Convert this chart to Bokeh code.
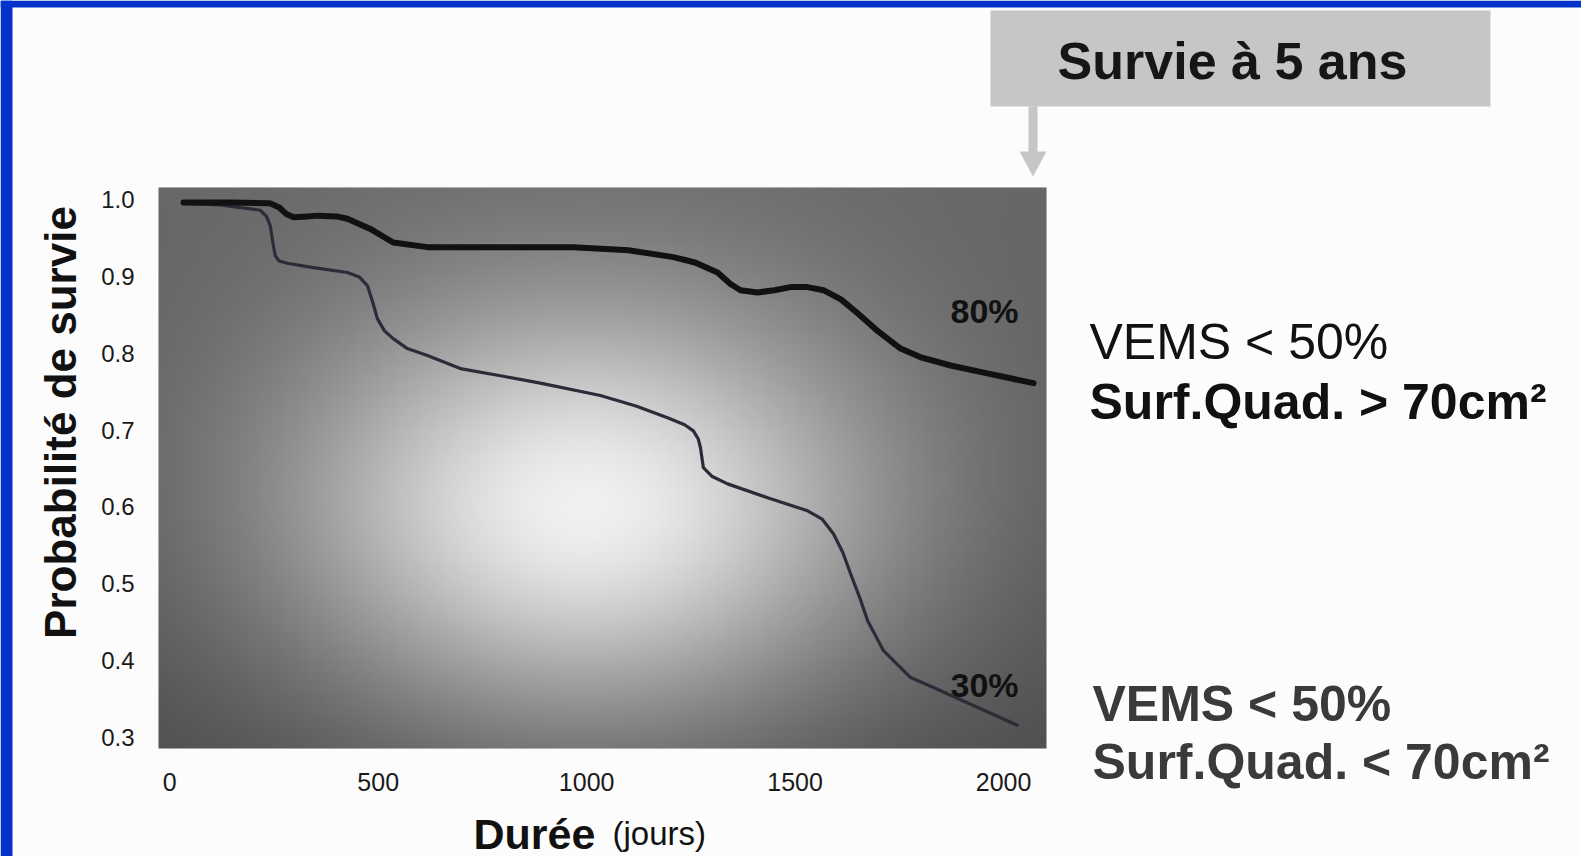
import numpy as np
from math import pi
from bokeh.plotting import figure
from bokeh.models import Range1d, FixedTicker, PrintfTickFormatter, Label
from bokeh.embed import file_html
from bokeh.resources import INLINE

# ---- data ----
days_high = [33, 150, 240, 262, 280, 297, 330, 354, 400, 426, 480, 536, 618, 750, 968, 1100,
             1208, 1260, 1314, 1345, 1369, 1410, 1450, 1489, 1530, 1568, 1610, 1650, 1700,
             1753, 1800, 1873, 1950, 2072]
surv_high = [0.996, 0.996, 0.995, 0.990, 0.981, 0.977, 0.978, 0.979, 0.978, 0.975, 0.962,
             0.944, 0.938, 0.938, 0.938, 0.934, 0.925, 0.918, 0.905, 0.890, 0.882, 0.879,
             0.882, 0.886, 0.886, 0.882, 0.870, 0.852, 0.828, 0.806, 0.795, 0.784, 0.775, 0.761]

days_low = [33, 120, 217, 232, 241, 247, 253, 262, 282, 337, 426, 455, 474, 486, 498, 515,
            536, 570, 618, 697, 800, 889, 1033, 1120, 1194, 1235, 1256, 1268, 1273, 1280,
            1300, 1338, 1434, 1530, 1565, 1592, 1615, 1633, 1655, 1674, 1712, 1777, 1832,
            1938, 2033]
surv_low = [0.995, 0.993, 0.986, 0.978, 0.966, 0.945, 0.927, 0.920, 0.917, 0.912, 0.905,
            0.899, 0.888, 0.868, 0.845, 0.829, 0.819, 0.806, 0.797, 0.780, 0.770, 0.761,
            0.745, 0.731, 0.716, 0.707, 0.699, 0.688, 0.677, 0.651, 0.640, 0.630, 0.612,
            0.595, 0.584, 0.565, 0.540, 0.513, 0.482, 0.452, 0.413, 0.378, 0.365, 0.339, 0.316]

x_ticks = [0, 500, 1000, 1500, 2000]
y_ticks = [0.3, 0.4, 0.5, 0.6, 0.7, 0.8, 0.9, 1.0]
end_labels = ["80%", "30%"]
group_lines = [["VEMS < 50%", "Surf.Quad. > 70cm²"], ["VEMS < 50%", "Surf.Quad. < 70cm²"]]
box_title = "Survie à 5 ans"
y_title = "Probabilité de survie"
x_title = ["Durée", "(jours)"]

# ---- layout (page pixels) ----
W, H = 1581, 856
FL, FR, FT, FB = 158, 1046, 187, 748
X0, X1 = -27, 2103
Y0, Y1 = 0.2857, 1.0156
FONT = "Liberation Sans"

p = figure(width=W, height=H, output_backend="svg", toolbar_location=None,
           x_range=Range1d(X0, X1), y_range=Range1d(Y0, Y1),
           min_border_left=FL, min_border_right=W - FR,
           min_border_top=FT, min_border_bottom=H - FB)
p.border_fill_color = "#fcfcfc"
p.background_fill_color = "#888888"
p.outline_line_color = None
p.xgrid.visible = False
p.ygrid.visible = False

# background shading of the plot area
nu, nv = 260, 170
U, V = np.meshgrid(np.linspace(0, 1, nu), np.linspace(0, 1, nv))
b = 0.30 + 0.10 * V + 0.60 * np.exp(-((U - 0.48) / 0.34) ** 2 - ((V - 0.42) / 0.38) ** 2)
g = (np.clip(b, 0, 1) * 255).astype(np.uint8)
img = np.empty((nv, nu), dtype=np.uint32)
view = img.view(dtype=np.uint8).reshape((nv, nu, 4))
view[..., 0] = g
view[..., 1] = g
view[..., 2] = g
view[..., 3] = 255
p.image_rgba(image=[img], x=X0, y=Y0, dw=X1 - X0, dh=Y1 - Y0)

p.line(days_low, surv_low, line_width=3.2, color="#2a2c38", line_join="round", line_cap="round")
p.line(days_high, surv_high, line_width=6, color="#111111", line_join="round", line_cap="round")

# axes
for ax in (p.xaxis[0], p.yaxis[0]):
    ax.axis_line_color = None
    ax.major_tick_line_color = None
    ax.minor_tick_line_color = None
    ax.major_tick_out = 0
    ax.major_tick_in = 0
    ax.major_label_text_font = FONT
    ax.major_label_text_color = "#1a1a1a"
p.xaxis.ticker = FixedTicker(ticks=x_ticks)
p.yaxis.ticker = FixedTicker(ticks=y_ticks)
p.yaxis.formatter = PrintfTickFormatter(format="%.1f")
p.xaxis.major_label_text_font_size = "25px"
p.yaxis.major_label_text_font_size = "24px"
p.xaxis.major_label_standoff = 24
p.yaxis.major_label_standoff = 24


def px2x(px):
    return X0 + (px - FL) / (FR - FL) * (X1 - X0)


def px2y(py):
    return Y1 - (py - FT) / (FB - FT) * (Y1 - Y0)


for txt, py in zip(end_labels, [310, 684]):
    p.add_layout(Label(x=px2x(984), y=px2y(py), text=txt, text_font=FONT,
                       text_font_size="34px", text_font_style="bold", text_color="#111111",
                       text_align="center", text_baseline="middle"))

# ---- transparent overlay (page pixel coordinates) for texts outside the plot area ----
o = figure(width=W, height=H, output_backend="svg", toolbar_location=None, title=None,
           x_range=Range1d(0, W), y_range=Range1d(H, 0),
           x_axis_type=None, y_axis_type=None, min_border=0)
o.background_fill_alpha = 0
o.border_fill_alpha = 0
o.outline_line_color = None
o.xgrid.visible = False
o.ygrid.visible = False
o.styles = {"position": "absolute", "left": "0px", "top": "0px"}

BLUE = "#0433cc"
o.quad(left=[0], right=[W], top=[0], bottom=[7], fill_color=BLUE, line_color=None)
o.quad(left=[0], right=[12], top=[0], bottom=[H], fill_color=BLUE, line_color=None)

# grey box and arrow
GREY = "#c6c6c6"
o.quad(left=[990], right=[1490], top=[10], bottom=[106], fill_color=GREY, line_color=None)
o.quad(left=[1028], right=[1037], top=[106], bottom=[153], fill_color=GREY, line_color=None)
o.patch([1019, 1046, 1032.5], [151, 151, 176], fill_color=GREY, line_color=None)


def lab(text, px, py, size, bold=False, color="#111111", align="left", baseline="alphabetic", **kw):
    o.add_layout(Label(x=px, y=py, text=text, text_font=FONT, text_font_size=f"{size}px",
                       text_font_style="bold" if bold else "normal", text_color=color,
                       text_align=align, text_baseline=baseline, **kw))


lab(box_title, 1232, 60, 52, bold=True, color="#161616", align="center", baseline="middle")
lab(y_title, 60, 422, 44, bold=True, align="center", angle=pi / 2)
lab(x_title[0], 473, 833, 43, bold=True)
lab(x_title[1], 612, 833, 33)
lab(group_lines[0][0], 1089, 341, 50)
lab(group_lines[0][1], 1089, 401, 50, bold=True)
lab(group_lines[1][0], 1092, 703, 50, bold=True, color="#3a3a3a")
lab(group_lines[1][1], 1092, 761, 50, bold=True, color="#3a3a3a")

open("out.html", "w").write(file_html([p, o], INLINE))
